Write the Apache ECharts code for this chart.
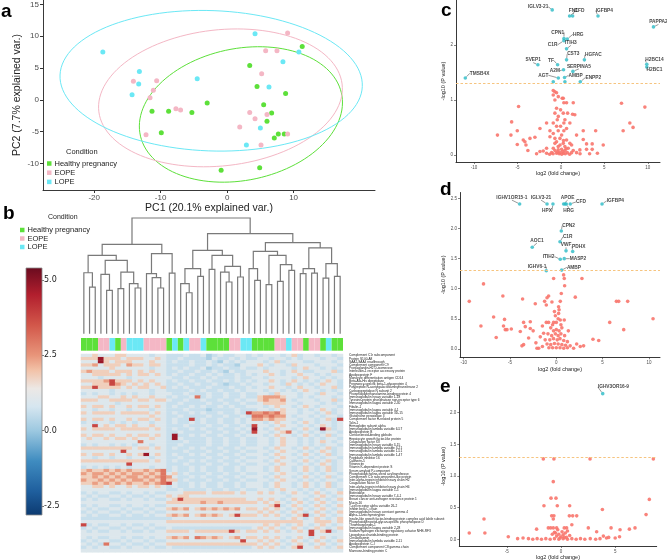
<!DOCTYPE html>
<html><head><meta charset="utf-8">
<script src="https://cdn.jsdelivr.net/npm/echarts@6/dist/echarts.min.js"></script>
<style>html,body{margin:0;padding:0;background:#fff}#c{width:667px;height:560px}</style>
</head><body><div id="c"></div>
<script>
// ---------------- DATA ----------------
const groupNames = ['Healthy pregnancy', 'EOPE', 'LOPE'];
const pcaHealthy = [[-11.3,-1.8],[-8.8,-1.8],[-9.9,-5.2],[-5.3,-2.0],[-3.0,-0.5],[-0.9,-11.1],[3.4,5.4],[4.5,2.1],[5.5,-0.8],[6.7,-2.1],[6.0,-3.4],[7.7,-5.4],[7.1,-6.0],[8.6,-5.4],[8.8,1.0],[11.3,8.4],[4.9,-10.7]];
const pcaEOPE = [[-14.1,2.9],[-10.6,3.0],[-11.1,1.5],[-11.6,0.3],[-12.2,-5.5],[-7.7,-1.4],[-7.0,-1.6],[1.9,-4.3],[3.4,-2.0],[4.2,-3.0],[6.0,-2.3],[5.2,4.1],[5.8,7.7],[7.5,7.7],[9.1,10.5],[9.1,-5.4],[5.1,-7.1]];
const pcaLOPE = [[-18.7,7.5],[-13.2,4.45],[-13.3,2.5],[-14.3,0.8],[-4.5,3.3],[4.2,10.4],[10.8,7.5],[8.4,6.0],[6.3,2.0],[5.0,-4.45],[2.9,-7.1]];
const pcaXTicks = [-20,-10,0,10];
const pcaYTicks = [-10,-5,0,5,10,15];

// dendrogram: [left, right, height]; leaves = column index
const dendroTree = [[[[0,[1,2,4.03],5.27],[[3,[4,5,3.75],5.13],[[6,7,3.89],[8,[9,10,3.95],4.32],5.33],6.34],6.77],[[11,[12,[13,14,3.95],4.84],5.19],[15,16,5.24],6.92],7.72],[[[[17,[18,19,3.54],4.32],[20,21,4.96],5.62],[[22,23,5.56],[[24,[25,26,4.47],5.33],[27,28,4.9],5.82],6.77],7.2],[[[29,[30,31,4.61],5.62],[[32,33,4.24],[[34,35,4.52],[36,37,5.48],5.97],6.77],7.12],[[[38,39,5.19],[40,41,5.24],5.62],[[42,43,4.81],[44,45,4.96],6.05],7.41],7.87],8.65],10];
const sampleConditions = ['H','H','H','E','E','L','H','E','L','L','L','E','E','E','E','H','L','H','L','E','E','L','H','H','H','H','E','E','L','L','H','H','H','H','E','E','L','E','E','H','E','E','H','L','H','H'];

const heatRows = [
"4454445544 4434433343 3423433443 4344434534 434434",
"5559555455 5445433433 3324334343 3443443434 443443",
"4449545554 4454434334 3343243434 4434534443 344434",
"5564555465 5455433334 3343433244 4543443544 434443",
"4444454444 4434434343 3423343343 3434444345 443434",
"5655545554 5454433433 4334324334 4454434543 344453",
"4455555454 5545434334 3343433434 3445434454 434344",
"4443444434 4444443343 3434333433 4434444345 443434",
"5555685554 5454434334 3343343434 3445434543 434543",
"4455586545 4545433433 4334323343 4434435434 345443",
"5585555454 5544534343 3343334334 3445443454 434453",
"4444434444 4434433334 3433433434 4434434345 443434",
"3434434343 4434443343 3343343343 3443544434 435443",
"4445544545 4454434334 7343343343 3566654434 344434",
"5554455554 5545543343 3433433434 4565564344 434453",
"4444443444 4444433433 3343343343 3455554434 443434",
"5455454454 5545434334 3433434334 4434544345 434443",
"4434434434 4434433343 3323333433 3443454434 345434",
"5455554555 5545434334 3433433438 6676754434 434534",
"4444444444 4454433433 3343343343 7767664344 343443",
"5455454454 5545434338 3433433434 6656554434 434538",
"3434434343 4434434334 3433433434 4434544345 434434",
"4484545545 4454433343 3343343343 8443454434 345434",
"5455554555 5545434334 3433433434 9434544345 439534",
"4444444444 4444433433 3343343343 8443457434 343443",
"5455454454 5545439334 3433433434 4434544345 434534",
"4544545545 4454439433 3343343343 3443454434 343443",
"4444444444 7444433343 3343343343 3443454434 345434",
"3434434343 4434433433 3343343343 3443454434 343443",
"5555555554 5545434334 3433433434 4434544345 434534",
"4444444844 4444433343 3343343343 3443454434 345434",
"5455454454 5945434334 3433433434 4434544345 434534",
"4434434434 4434433433 3343343343 3443454434 343443",
"5555555555 5545434334 3433433434 4434544345 434534",
"4444444484 4444433343 3343343343 3443454434 345434",
"3434343434 4434434334 3433433434 4434544345 434534",
"5655656565 5656734334 3433433434 4434544345 434534",
"6566565656 6565745343 3343343343 3443454434 343443",
"5565656566 5656764334 3433433434 4434544345 434534",
"6556565656 6565755343 3343343343 3443454434 343443",
"5565656565 5656784334 3433433434 4434544345 434534",
"4455454454 5545434334 3433433434 4434544345 434534",
"4444444444 4444433433 3343343343 3443454434 343443",
"3434433434 4343344455 5545555454 4545434543 454345",
"4343344343 3434454554 4444444444 4444443444 345434",
"3434433434 4343345855 5555555554 4545434543 454345",
"4444444444 4444455555 5655655555 5454543454 345434",
"3434433434 4343344444 4444444444 4445834543 454345",
"4343344343 3434456564 5656565645 5454543454 345434",
"3434433434 4343344444 4444444444 4545434543 454345",
"4343344343 3434456564 5656545855 5454543458 345434",
"3333333333 3333334444 4444444444 4444434543 454345",
"4444444444 4444455555 5555555555 5555555554 455545",
"8343344343 3434444444 4444444444 4454543454 345434",
"3434433434 4343343333 3333333333 4545434543 454345",
"4343344343 3434455554 5555558545 5454543454 845834",
"4444444444 4444444444 4444444444 4444444444 844444",
"4343344343 3434456564 7656545645 5454543454 345434",
"3434433434 4343344444 4444444484 4545434543 454345",
"4343744343 3434455555 5555555555 5454543454 345434",
"3434433434 4343343333 3333333333 4545434584 454345",
"4444444444 4444444444 4444444444 4444444444 444444"
];
const heatLevels = {'1':-0.5,'2':0.2,'3':0.6,'4':1.0,'5':1.8,'6':2.4,'7':3.0,'8':3.8,'9':4.8};
const proteinLabels = [
"Complement C1r subcomponent","Protein S100-A8","SAA2-SAA4 readthrough","Complement component C9","Prostaglandin-H2 D-isomerase",
"Interleukin-1 receptor accessory protein","Apolipoprotein F","Monocyte differentiation antigen CD14","Beta-Ala-His dipeptidase",
"Pregnancy-specific beta-1-glycoprotein 4","Polypeptide N-acetylgalactosaminyltransferase 2","Carboxypeptidase N subunit 2",
"Phosphatidylethanolamine-binding protein 4","Immunoglobulin heavy variable 1-18","Tyrosine-protein phosphatase non-receptor type 6",
"Immunoglobulin kappa variable 2-30","Fibulin-1","Immunoglobulin kappa variable 4-1","Immunoglobulin kappa variable 3D-15",
"Glutathione peroxidase 3","Complement factor H-related protein 5","Talin-1","Hemoglobin subunit alpha",
"Immunoglobulin lambda variable 6-57","Apolipoprotein B","Corticosteroid-binding globulin","Hepatocyte growth factor-like protein",
"Coagulation factor XII","Immunoglobulin heavy variable 3-15","Immunoglobulin lambda variable 3-21","Immunoglobulin lambda variable 1-51",
"Immunoglobulin lambda variable 1-47","Peptidase inhibitor 16","Cadherin-5","Vitronectin","Vitamin K-dependent protein S",
"Serum amyloid P-component","Phosphatidylcholine-sterol acyltransferase","Complement C1r subcomponent-like protein",
"Inter-alpha-trypsin inhibitor heavy chain H2","Coagulation factor XI","Inter-alpha-trypsin inhibitor heavy chain H4",
"Immunoglobulin kappa variable 1-5","Biotinidase","Immunoglobulin heavy variable 7-4-1",
"Breast cancer anti-estrogen resistance protein 1","Mucin-16","T-cell receptor alpha variable 26-2","Inhibin beta C chain",
"Immunoglobulin heavy constant gamma 4","Alpha-1-antichymotrypsin",
"Insulin-like growth factor-binding protein complex acid labile subunit",
"Phosphatidylinositol-glycan-specific phospholipase D","Thrombospondin-1","Immunoglobulin kappa variable 2-28",
"Sodium/hydrogen exchange regulatory cofactor NHE-RF3","Lipopolysaccharide-binding protein","Ceruloplasmin",
"Immunoglobulin lambda variable 2-11","Apolipoprotein C-I","Complement component C8 gamma chain","Mannose-binding protein C"
];
const colorbarTicks = [-2.5, 0, 2.5, 5];

// volcano c
const cRed = [[-0.69,1.15],[-0.5,1.13],[-0.88,1.09],[-0.3,1.06],[-0.69,1.0],[0.15,1.03],[0.34,0.95],[0.65,0.95],[1.42,0.95],[-4.87,0.88],[6.97,0.94],[9.66,0.87],[-0.5,0.85],[-0.04,0.82],[-0.69,0.76],[0.27,0.76],[0.77,0.76],[1.34,0.74],[1.6,0.73],[-0.42,0.64],[-5.67,0.6],[0.34,0.58],[-0.88,0.58],[-1.65,0.58],[7.93,0.58],[8.3,0.5],[7.16,0.44],[-5.02,0.44],[-2.41,0.48],[-1.26,0.44],[-0.31,0.44],[0.34,0.44],[2.57,0.44],[4.0,0.44],[-7.3,0.36],[-5.75,0.36],[-4.33,0.27],[-4.14,0.24],[-4.02,0.18],[-3.8,0.08],[-3.56,0.3],[-2.99,0.32],[-5.02,0.19],[1.8,0.36],[2.57,0.28],[2.95,0.2],[3.6,0.2],[4.87,0.18],[3.6,0.1],[2.95,0.1],[2.18,0.09],[-1.65,0.12],[-2.41,0.06],[-2.03,0.07],[-1.26,0.33],[-0.69,0.3],[-0.11,0.3],[0.65,0.27],[-0.69,0.21],[0.27,0.21],[1.23,0.18],[-0.88,0.12],[-0.31,0.09],[0.08,0.1],[0.46,0.08],[0.84,0.12],[1.42,0.08],[-1.07,0.04],[-0.5,0.03],[-0.11,0.04],[0.27,0.03],[0.73,0.04],[1.23,0.04],[1.8,0.04],[-1.65,0.03],[-0.69,0.08],[0.46,0.15],[-0.31,0.15],[1.03,0.21],[-0.88,0.39],[-0.04,0.52],[0.46,0.64],[1.03,0.58],[0.65,0.48],[-0.5,0.52],[0.08,0.36],[-0.2,0.02],[0.1,0.01],[0.5,0.02],[-0.9,0.02],[1.0,0.01],[-1.3,0.01],[0.2,0.06],[-0.4,0.05],[0.6,0.11],[-0.1,0.18],[0.3,0.26],[-0.5,0.24],[2.2,0.02],[-2.8,0.02],[3.3,0.02],[4.2,0.03],[-0.3,0.7],[0.27,1.03],[-0.88,1.17]];
const cSig = [[-1.0,2.64,'IGLV3-21'],[1.0,2.53,'FN1'],[1.35,2.53,'CFD'],[4.27,2.53,'IGFBP4'],[10.65,2.33,'PAPPA2'],[0.35,2.12,'CPN1'],[0.73,2.11,'HRG'],[0.35,2.08,'C1R'],[0.65,1.93,'ITIH3'],[0.65,1.73,'CST3'],[2.7,1.73,'HGFAC'],[-2.65,1.64,'SVEP1'],[-0.38,1.64,'TF'],[1.38,1.52,'SERPINA5'],[0.3,1.55,'A2M'],[-0.3,1.4,'AGT'],[0.42,1.41,'AMBP'],[2.23,1.33,'ENPP2'],[9.88,1.65,'H2BC14'],[9.88,1.6,'H2BC1'],[-11.0,1.4,'TMSB4X'],[-0.88,1.33,''],[0.46,1.33,'']];
// volcano d
const dRed = [[0.79,1.23],[0.86,1.17],[-0.29,1.17],[2.77,1.17],[-7.86,1.08],[0.9,1.05],[0.54,0.92],[-5.77,0.88],[-0.83,0.88],[-1.0,0.85],[2.05,0.86],[-3.64,0.83],[-9.4,0.79],[-2.27,0.75],[-1.26,0.79],[-0.47,0.78],[6.49,0.79],[6.74,0.79],[7.71,0.79],[-1.08,0.73],[0.43,0.79],[0.25,0.7],[0.25,0.59],[-6.77,0.53],[-5.59,0.49],[-2.81,0.45],[-3.53,0.44],[-1.08,0.44],[-0.83,0.44],[-0.29,0.44],[0,0.44],[0.43,0.48],[0.86,0.48],[10.45,0.5],[5.77,0.44],[-8.14,0.38],[-5.7,0.38],[-5.51,0.32],[-5.33,0.32],[-4.86,0.33],[-3.89,0.29],[-3.35,0.37],[-2.81,0.34],[7.28,0.32],[-6.49,0.19],[-2.99,0.18],[-3.53,0.07],[-3.71,0.05],[-1.73,0.2],[-1.37,0.26],[3.96,0.16],[4.58,0.14],[-2.09,0.01],[-1.9,0.01],[1.87,0.01],[2.59,0.04],[2.95,0.05],[-0.6,0.35],[-0.3,0.3],[0,0.32],[0.3,0.3],[0.6,0.35],[-0.9,0.25],[-0.5,0.22],[-0.1,0.25],[0.2,0.22],[0.5,0.25],[0.9,0.22],[-1.2,0.15],[-0.7,0.15],[-0.3,0.17],[0.1,0.15],[0.4,0.17],[0.8,0.14],[1.2,0.12],[-1.0,0.08],[-0.6,0.07],[-0.2,0.09],[0.2,0.08],[0.6,0.07],[1.0,0.06],[1.5,0.05],[-1.5,0.04],[-0.8,0.02],[-0.4,0.02],[0,0.02],[0.4,0.02],[0.8,0.01],[1.2,0.02],[-0.1,0.55],[0.2,0.5],[-0.2,0.62],[0.3,0.65],[-0.4,0.4],[0.5,0.4],[1.3,0.3],[-1.5,0.38],[-2.2,0.1],[2.2,0.08],[-2.5,0.3]];
const dSig = [[-3.96,2.41,'IGHV1OR15-1'],[-1.0,2.41,'IGLV3-21'],[-0.36,2.41,'HPX'],[0.79,2.41,'APOE'],[1.51,2.41,'CFD'],[1.08,2.41,'HRG'],[4.94,2.41,'IGFBP4'],[0.54,1.96,'CPN2'],[0.4,1.78,'C1R'],[-2.6,1.69,'AOC1'],[1.05,1.63,'VWF'],[1.77,1.62,'PDHX'],[0.43,1.49,'ITIH2'],[0.86,1.5,'MASP2'],[-1.08,1.30,'IGHV6-1'],[0.58,1.31,'AMBP'],[0.95,2.41,'']];
// volcano e
const eRed = [[-1.63,1.27],[-0.65,1.27],[2.68,1.27],[8.52,1.27],[-0.71,0.91],[-0.92,0.65],[-0.46,0.65],[8.15,0.63],[-1.57,0.53],[-0.34,0.53],[0.8,0.53],[3.82,0.47],[7.85,0.39],[-0.86,0.37],[-0.65,0.37],[0.77,0.37],[1.08,0.37],[1.45,0.37],[-7.1,0.32],[-0.71,0.32],[-2.25,0.16],[-1.17,0.18],[-0.95,0.18],[-0.71,0.18],[-0.4,0.18],[0.52,0.18],[1.0,0.23],[2.52,0.18],[3.29,0.12],[4.62,0.18],[5.45,0.15],[6.31,0.16],[6.83,0.18],[-8.46,0.1],[-7.02,0.1],[-4.86,0.04],[-4.0,0.01],[-3.5,0.02],[-3.0,0.01],[-2.6,0],[-2.2,0.01],[-1.8,0],[-1.4,0.01],[-1.0,0],[-0.6,0.01],[-0.2,0],[0.2,0.01],[0.6,0],[1.0,0.01],[1.4,0],[1.8,0.01],[2.2,0],[2.7,0.01],[3.2,0],[3.6,0.01],[3.91,0.05],[4.2,0.02],[4.4,0.03],[5.0,0.02],[5.4,0.04],[-0.4,0.05],[-0.2,0.08],[0,0.04],[0.2,0.07],[0.4,0.1],[-0.6,0.11],[0.1,0.12],[0.5,0.03],[0.8,0.06],[-0.3,0.15],[0.3,0.18],[-0.8,0.08],[-0.5,0.1],[0.6,0.13],[-0.1,0.02],[0.3,0.03]];
const eSig = [[3.85,2.3,'IGHV3OR16-9']];
const pThreshold = 1.3;
const volXTicksCD = [-10,-5,0,5,10];
const volXTicksE = [-5,0,5];
const cYTicks = [0,1,2];
const dYTicks = [0,0.5,1,1.5,2,2.5];
const eYTicks = [0,0.5,1,1.5,2];

// ---------------- STYLE / LAYOUT ----------------
const FONT = 'Liberation Sans, Arial, Helvetica, sans-serif';
const groupColors = {H:'#5de03a', E:'#f4b7c5', L:'#6be8f5'};
const seriesColors = [groupColors.H, groupColors.E, groupColors.L];
const heatStops = [[-2.8,'#0c3a70'],[-2.0,'#1f5f9e'],[-1.0,'#3f8cc0'],[0.0,'#9cc8e0'],[0.8,'#d6e6f0'],[1.4,'#ece8e5'],[2.0,'#f2c2a8'],[2.5,'#e8957a'],[3.5,'#d2574a'],[4.5,'#b21f2e'],[5.4,'#6a0b1f']];
const heatMin = -2.8, heatMax = 5.4;
const cOffsets = [[-14,-3],[3.7,-5.3],[6.8,-5.3],[6.3,-5.3],[5,-5],[-6.3,-6],[11,-4.7],[-11.3,4.3],[4.3,-6],[6.7,-5.7],[9,-5],[-4.7,-4.7],[-6.7,-4.3],[6,-5],[-8.7,1],[-15,-2.7],[11,-2],[13,-4.3],[7.7,-4.3],[7.7,2.3],[14.3,-4.7],[0,0],[0,0]];
const dOffsets = [[-7.7,-6.3],[-6,-6.3],[-6,7],[4,-6.3],[10.7,-2],[2.3,6.3],[13.3,-3],[7.3,-5.3],[7.7,-5],[4.7,-6.7],[0,-6],[6,-5],[-11.7,-2.7],[13.7,0],[-9.3,-4],[12.3,-2.7],[0,0]];
const eOffsets = [[10.7,-6.7]];

// ---------------- helpers ----------------
function hex2rgb(h){return [parseInt(h.substr(1,2),16),parseInt(h.substr(3,2),16),parseInt(h.substr(5,2),16)];}
function heatColor(v){
  for(let i=0;i<heatStops.length-1;i++){
    const a=heatStops[i], b=heatStops[i+1];
    if(v<=b[0]){const t=Math.max(0,(v-a[0])/(b[0]-a[0]));const ca=hex2rgb(a[1]),cb=hex2rgb(b[1]);
      return 'rgb('+ca.map((x,k)=>Math.round(x+(cb[k]-x)*t)).join(',')+')';}
  }
  return heatStops[heatStops.length-1][1];
}
function ellipsePts(pts, r, n){
  const m=pts.length;
  const mx=pts.reduce((s,p)=>s+p[0],0)/m, my=pts.reduce((s,p)=>s+p[1],0)/m;
  let sxx=0,syy=0,sxy=0;
  pts.forEach(p=>{const dx=p[0]-mx,dy=p[1]-my;sxx+=dx*dx;syy+=dy*dy;sxy+=dx*dy;});
  sxx/=(m-1);syy/=(m-1);sxy/=(m-1);
  const tr=(sxx+syy)/2, dd=Math.sqrt(((sxx-syy)/2)**2+sxy*sxy);
  const l1=tr+dd, l2=Math.max(tr-dd,0);
  const ang=0.5*Math.atan2(2*sxy,sxx-syy);
  const out=[];
  for(let i=0;i<=n;i++){const t=2*Math.PI*i/n;const a=r*Math.sqrt(l1)*Math.cos(t),b=r*Math.sqrt(l2)*Math.sin(t);
    out.push([mx+a*Math.cos(ang)-b*Math.sin(ang), my+a*Math.sin(ang)+b*Math.cos(ang)]);}
  return out;
}
const dendroSegs=[];
function walk(node){
  if(typeof node==='number') return {x:node,h:0};
  const l=walk(node[0]), r=walk(node[1]);
  dendroSegs.push([l.x,r.x,l.h,r.h,node[2]]);
  return {x:(l.x+r.x)/2,h:node[2]};
}
walk(dendroTree);

const heatData=[];
heatRows.forEach((row,r)=>{const s=row.replace(/ /g,'');for(let c=0;c<s.length;c++){heatData.push([c,r,heatLevels[s[c]]]);}});
const nCols = sampleConditions.length;
const colNames = sampleConditions.map((_,i)=>String(i));

const vmColors=[];
for(let v=heatMin; v<=heatMax+1e-9; v+=0.1) vmColors.push(heatColor(v));

function gridDef(l,t,w,h){return {left:l,top:t,width:w,height:h,containLabel:false,outerBoundsMode:'none'};}
const axisLineStyle={color:'#222',width:0.9};
function valAxis(o){return Object.assign({type:'value',splitLine:{show:false},axisLine:{show:true,onZero:false,lineStyle:axisLineStyle}},o);}
function hiddenVal(g,min,max){return {type:'value',gridIndex:g,min:min,max:max,show:false,splitLine:{show:false}};}

function volXAxis(g,min,max,ticks,gap){return valAxis({gridIndex:g,min:min,max:max,name:'log2 (fold change)',nameLocation:'middle',nameGap:gap,
  nameTextStyle:{fontSize:5.5,color:'#222',fontFamily:FONT},
  axisTick:{show:true,length:2,customValues:ticks,lineStyle:{color:'#333',width:0.6}},
  axisLabel:{customValues:ticks,fontSize:4.5,color:'#4d4d4d',margin:3,fontFamily:FONT}});}
function volYAxis(g,min,max,ticks,gap,dec){return valAxis({gridIndex:g,min:min,max:max,name:'-log10 (P value)',nameLocation:'middle',nameGap:gap,
  nameTextStyle:{fontSize:5.5,color:'#222',fontFamily:FONT},
  axisTick:{show:true,length:2,customValues:ticks,lineStyle:{color:'#333',width:0.6}},
  axisLabel:{customValues:ticks,fontSize:4.5,color:'#4d4d4d',margin:3,fontFamily:FONT,formatter:v=>dec?Number(v).toFixed(1):String(v)}});}

function volSeries(ax, red, sig, offs){
  return [
    {type:'scatter',xAxisIndex:ax,yAxisIndex:ax,data:red,symbolSize:3.6,silent:true,
     itemStyle:{color:'#f8766d',opacity:0.9},
     markLine:{silent:true,symbol:'none',label:{show:false},lineStyle:{color:'#f6c47f',type:[2.5,2],width:1},data:[{yAxis:pThreshold}]}},
    {type:'scatter',xAxisIndex:ax,yAxisIndex:ax,symbolSize:3.6,silent:true,
     itemStyle:{color:'#2bbac5'},
     data:sig.map(p=>({value:[p[0],p[1]],name:p[2],label:{show:p[2]!==''},labelLine:{show:p[2]!==''}})),
     label:{show:true,position:'inside',formatter:'{b}',fontSize:4.8,fontWeight:'bold',color:'#111',fontFamily:FONT},
     labelLine:{show:true,lineStyle:{color:'#333',width:0.5}},
     labelLayout:function(p){const o=offs[p.dataIndex]||[0,0];return {dx:o[0],dy:o[1]};}}
  ];
}

// ---------------- OPTION ----------------
const pcaSets=[pcaHealthy,pcaEOPE,pcaLOPE];
const ellipseR = 2.13;
const series=[];
pcaSets.forEach((pts,i)=>{
  series.push({type:'line',name:'ell'+i,xAxisIndex:0,yAxisIndex:0,data:ellipsePts(pts,ellipseR,120),showSymbol:false,silent:true,
    lineStyle:{color:seriesColors[i],width:1},clip:true,z:1});
});
pcaSets.forEach((pts,i)=>{
  series.push({type:'scatter',name:groupNames[i],xAxisIndex:0,yAxisIndex:0,data:pts,symbolSize:5,itemStyle:{color:seriesColors[i],opacity:1},z:3});
});
series.push({type:'custom',xAxisIndex:1,yAxisIndex:1,data:dendroSegs,silent:true,
  renderItem:function(params,api){
    const p1=api.coord([api.value(0),api.value(2)]),p2=api.coord([api.value(0),api.value(4)]),
          p3=api.coord([api.value(1),api.value(4)]),p4=api.coord([api.value(1),api.value(3)]);
    return {type:'polyline',shape:{points:[p1,p2,p3,p4]},style:{stroke:'#7a7a7a',lineWidth:1.2,fill:null}};
  }});
series.push({type:'bar',xAxisIndex:2,yAxisIndex:2,barCategoryGap:0,barGap:0,silent:true,
  data:sampleConditions.map(c=>({value:1,itemStyle:{color:groupColors[c]}}))});
const heatSeriesIndex=series.length;
series.push({type:'heatmap',xAxisIndex:3,yAxisIndex:3,data:heatData,silent:true,progressive:0});
series.push({type:'custom',xAxisIndex:4,yAxisIndex:4,data:[[0,heatMin,heatMax]],silent:true,
  renderItem:function(params,api){
    const tl=api.coord([0,heatMax]), br=api.coord([1,heatMin]);
    const stops=heatStops.map(s=>({offset:(heatMax-s[0])/(heatMax-heatMin),color:s[1]})).reverse();
    return {type:'rect',shape:{x:tl[0],y:tl[1],width:br[0]-tl[0],height:br[1]-tl[1]},
      style:{fill:new echarts.graphic.LinearGradient(0,0,0,1,stops),stroke:'#8a8a8a',lineWidth:0.8}};
  }});
series.push(...volSeries(5,cRed,cSig,cOffsets));
series.push(...volSeries(6,dRed,dSig,dOffsets));
series.push(...volSeries(7,eRed,eSig,eOffsets));

const legendCommon={data:groupNames,orient:'vertical',icon:'rect',itemWidth:4.5,itemHeight:4.5,selectedMode:false,
  textStyle:{fontSize:7.5,color:'#222',fontFamily:FONT,padding:[0,0,0,-2]},padding:0};

const option={
  animation:false,
  backgroundColor:'#fff',
  textStyle:{fontFamily:FONT},
  grid:[gridDef(43,0,332,190),gridDef(81,218,262,115.7),gridDef(81,338,262,12.7),gridDef(81,354,262,198.3),
        gridDef(26,268,16,247),gridDef(456,0,204,162),gridDef(460,192.5,200,164.8),gridDef(459.3,386.7,197.4,159.3)],
  xAxis:[
    valAxis({gridIndex:0,min:-27.7,max:22.25,name:'PC1 (20.1% explained var.)',nameLocation:'middle',nameGap:13,
      nameTextStyle:{fontSize:10.5,color:'#222',fontFamily:FONT},
      axisTick:{show:true,length:3,customValues:pcaXTicks,lineStyle:{color:'#333'}},
      axisLabel:{customValues:pcaXTicks,fontSize:8,color:'#4d4d4d',margin:4,fontFamily:FONT}}),
    hiddenVal(1,-0.5,nCols-0.5),
    {type:'category',gridIndex:2,data:colNames,show:false},
    {type:'category',gridIndex:3,data:colNames,show:false},
    hiddenVal(4,0,1),
    volXAxis(5,-12.07,11.4,volXTicksCD,7),
    volXAxis(6,-10.4,11.2,volXTicksCD,7),
    volXAxis(7,-9.38,8.83,volXTicksE,7)
  ],
  yAxis:[
    valAxis({gridIndex:0,min:-14.2,max:15.7,name:'PC2 (7.7% explained var.)',nameLocation:'middle',nameGap:20,
      nameTextStyle:{fontSize:10.5,color:'#222',fontFamily:FONT},
      axisTick:{show:true,length:3,customValues:pcaYTicks,lineStyle:{color:'#333'}},
      axisLabel:{customValues:pcaYTicks,fontSize:8,color:'#4d4d4d',margin:4,fontFamily:FONT}}),
    hiddenVal(1,0,10),
    hiddenVal(2,0,1),
    {type:'category',gridIndex:3,data:proteinLabels,inverse:true,position:'right',
      axisLine:{show:false},axisTick:{show:false},
      axisLabel:{interval:0,fontSize:3.2,color:'#222',margin:6,fontFamily:FONT}},
    {type:'value',gridIndex:4,min:heatMin,max:heatMax,position:'right',splitLine:{show:false},axisLine:{show:false,onZero:false},
      axisTick:{show:true,length:2,customValues:colorbarTicks,lineStyle:{color:'#555',width:0.8}},
      axisLabel:{customValues:colorbarTicks,fontSize:8,color:'#222',margin:2,fontFamily:'DejaVu Sans, sans-serif',formatter:v=>Number(v).toFixed(1)}},
    volYAxis(5,-0.13,2.82,cYTicks,5,false),
    volYAxis(6,-0.14,2.6,dYTicks,8,true),
    volYAxis(7,-0.106,2.41,eYTicks,7,true)
  ],
  visualMap:{type:'continuous',show:false,min:heatMin,max:heatMax,seriesIndex:heatSeriesIndex,inRange:{color:vmColors}},
  legend:[Object.assign({},legendCommon,{left:47,top:159.5,itemGap:1.2}),Object.assign({},legendCommon,{left:20,top:226,itemGap:0.5})],
  graphic:[
    {type:'text',left:1,top:2,style:{text:'a',font:'bold 19px '+FONT,fill:'#000'}},
    {type:'text',left:3,top:204,style:{text:'b',font:'bold 19px '+FONT,fill:'#000'}},
    {type:'text',left:441,top:1,style:{text:'c',font:'bold 19px '+FONT,fill:'#000'}},
    {type:'text',left:440,top:180,style:{text:'d',font:'bold 19px '+FONT,fill:'#000'}},
    {type:'text',left:440,top:377,style:{text:'e',font:'bold 19px '+FONT,fill:'#000'}},
    {type:'text',left:66,top:148,style:{text:'Condition',font:'7.5px '+FONT,fill:'#222'}},
    {type:'text',left:48,top:214,style:{text:'Condition',font:'7px '+FONT,fill:'#222'}}
  ],
  series:series
};
const chart=echarts.init(document.getElementById('c'),null,{renderer:'canvas',width:667,height:560});
chart.setOption(option);
</script></body></html>
